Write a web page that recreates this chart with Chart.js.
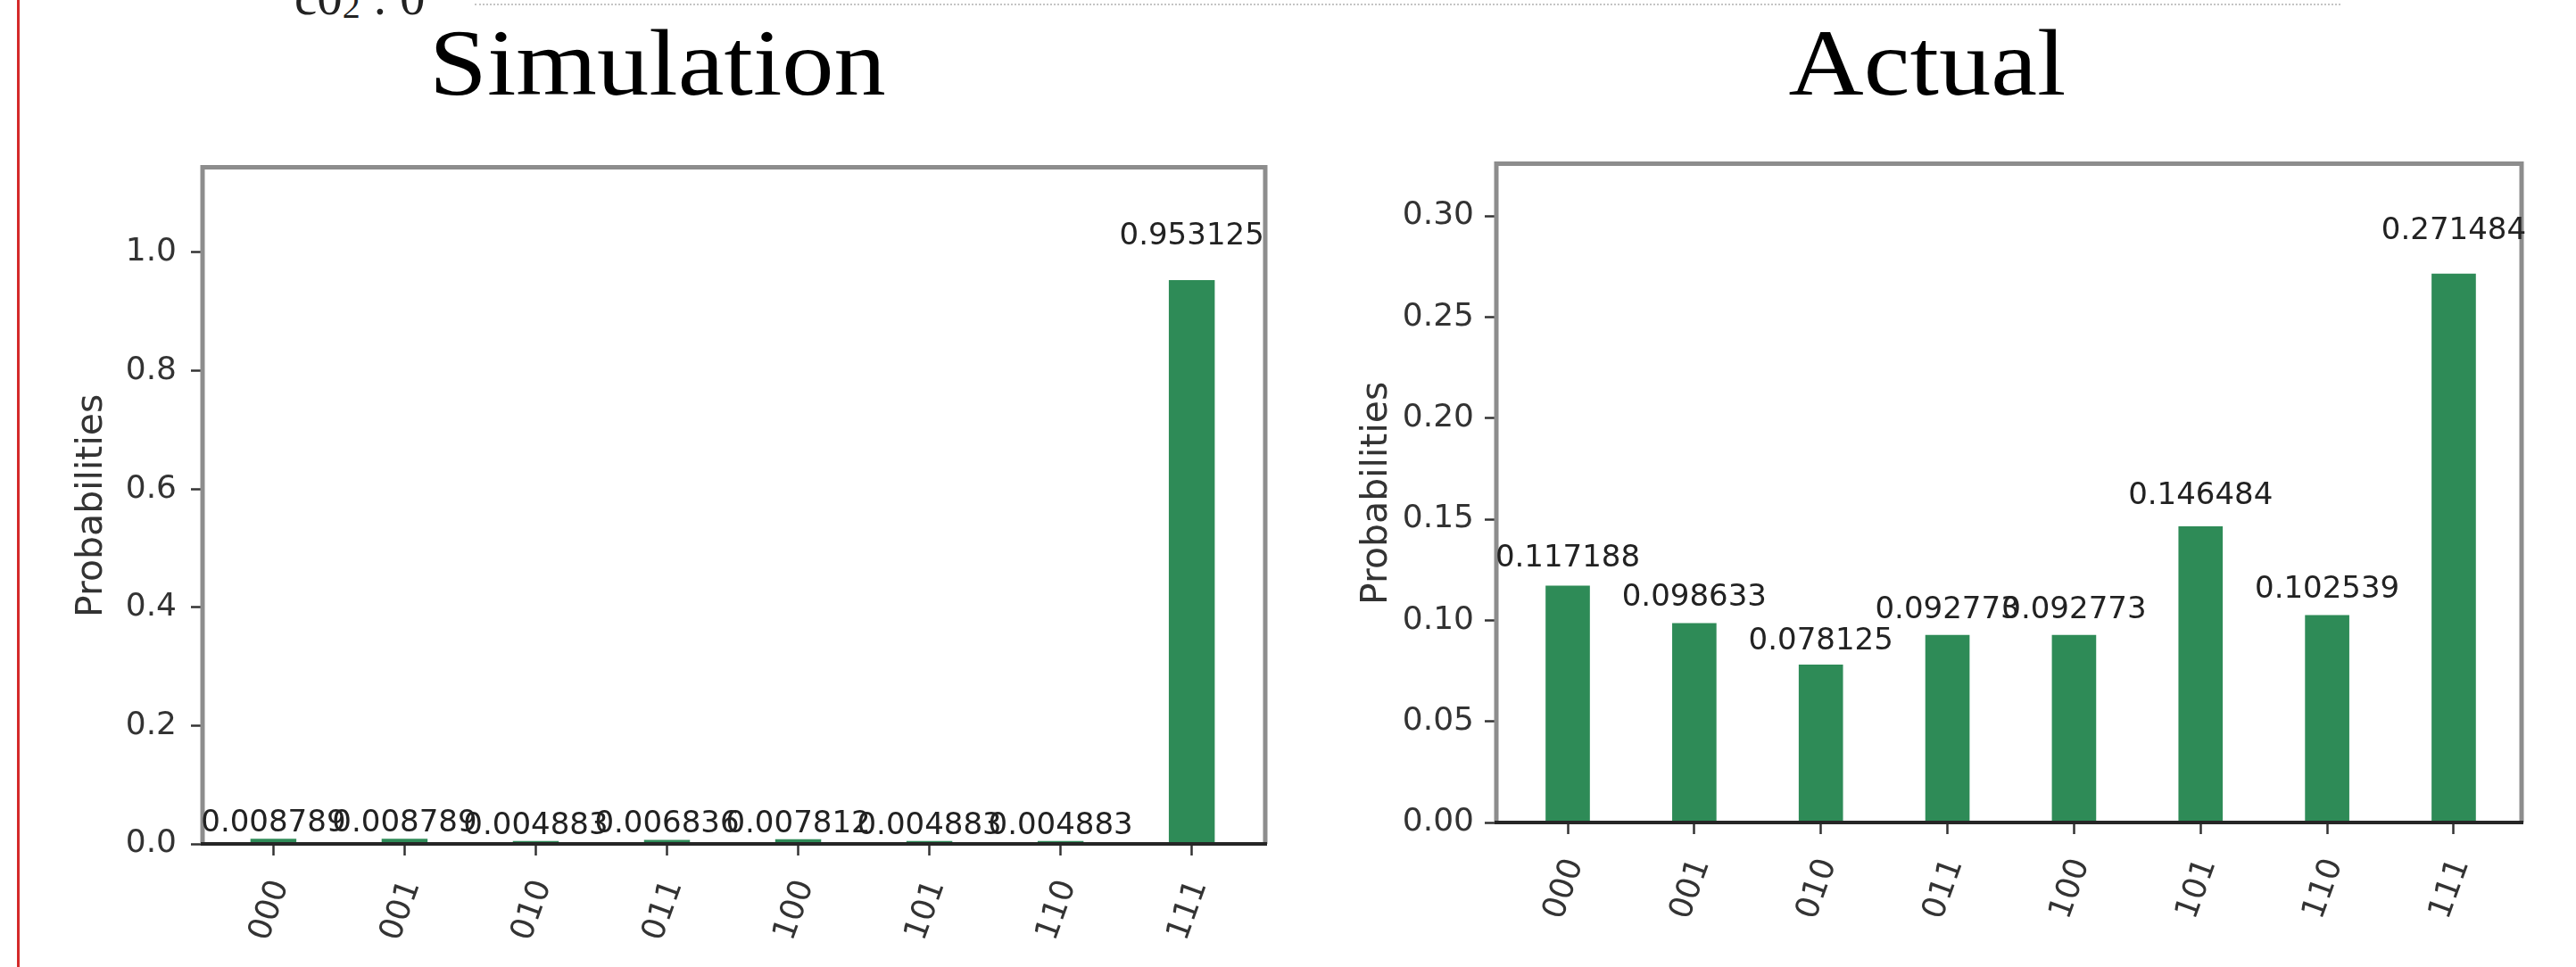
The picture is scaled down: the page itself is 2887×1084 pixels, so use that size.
<!DOCTYPE html>
<html>
<head>
<meta charset="utf-8">
<title>Simulation vs Actual</title>
<script src="https://cdn.jsdelivr.net/npm/chart.js@4.4.1/dist/chart.umd.min.js"></script>
<style>
  html, body { margin: 0; padding: 0; background: #fff; }
  body { position: relative; width: 2887px; height: 1084px; overflow: hidden; }
  .abs { position: absolute; }
  .margin-rule { left: 19px; top: 0; width: 3px; height: 1084px; background: #d42a2a; }
  .top-rule { left: 532px; top: 4px; width: 2091px; border-top: 2px dotted #c4c4c4; }
  .cut-text { left: 330px; top: -32px; font-family: "Liberation Serif", serif; font-size: 57px; line-height: 57px; color: #222; white-space: nowrap; }
  .cut-text .sub { font-size: 70%; position: relative; top: 4px; }
  .panel-title { top: 18px; font-family: "Liberation Serif", serif; font-size: 106px; line-height: 106px; color: #000; white-space: nowrap; transform: translateX(-50%) scaleX(1.1); }
  .chart-box { position: absolute; }
</style>
</head>
<body>
<div class="abs margin-rule"></div>
<div class="abs top-rule"></div>
<div class="abs cut-text">c0<span class="sub">2</span> : 0</div>
<div class="abs panel-title" id="title-sim" style="left:737px;"></div>
<div class="abs panel-title" id="title-act" style="left:2160px;"></div>
<div class="chart-box" style="left:75px; top:150px; width:1353px; height:926px;"><canvas id="sim"></canvas></div>
<div class="chart-box" style="left:1515px; top:150px; width:1323px; height:902px;"><canvas id="act"></canvas></div>
<script>
// Measured outcome probabilities for the three-qubit register.
const STATES = ['000', '001', '010', '011', '100', '101', '110', '111'];
const SIM_PROBS = [0.008789, 0.008789, 0.004883, 0.006836, 0.007812, 0.004883, 0.004883, 0.953125];
const ACT_PROBS = [0.117188, 0.098633, 0.078125, 0.092773, 0.092773, 0.146484, 0.102539, 0.271484];
const SIM_TICKS = [0, 0.2, 0.4, 0.6, 0.8, 1.0];
const ACT_TICKS = [0, 0.05, 0.10, 0.15, 0.20, 0.25, 0.30];
const PANEL_TITLES = ['Simulation', 'Actual'];
const Y_LABEL = 'Probabilities';

const BAR_COLOR = '#2e8b57';
const FONT = 'DejaVu Sans';
const TICK_SIZE = 36;
const VALUE_SIZE = 34;

document.getElementById('title-sim').textContent = PANEL_TITLES[0];
document.getElementById('title-act').textContent = PANEL_TITLES[1];

// Axes frame: grey spines on three sides, dark base line.
const frame = {
  id: 'frame',
  afterDatasetsDraw(chart) {
    const { ctx } = chart;
    const { left, right, top, bottom } = chart.chartArea;
    ctx.save();
    ctx.strokeStyle = '#8d8d8d';
    ctx.lineWidth = 5;
    ctx.beginPath();
    ctx.moveTo(left, bottom);
    ctx.lineTo(left, top);
    ctx.lineTo(right, top);
    ctx.lineTo(right, bottom);
    ctx.stroke();
    ctx.strokeStyle = '#262626';
    ctx.lineWidth = 4;
    ctx.beginPath();
    ctx.moveTo(left - 2, bottom);
    ctx.lineTo(right + 2, bottom);
    ctx.stroke();
    ctx.restore();
  }
};

// Value printed above each bar, bottom of the text at 1.05 x the bar height.
const valueLabels = {
  id: 'valueLabels',
  afterDatasetsDraw(chart) {
    const { ctx } = chart;
    const xs = chart.scales.x, ys = chart.scales.y;
    ctx.save();
    ctx.font = VALUE_SIZE + 'px "' + FONT + '"';
    ctx.fillStyle = '#222';
    ctx.textAlign = 'center';
    ctx.textBaseline = 'alphabetic';
    chart.data.datasets[0].data.forEach(pt => {
      const px = xs.getPixelForValue(pt.x);
      const py = ys.getPixelForValue(pt.y * 1.05) - 0.236 * VALUE_SIZE;
      ctx.fillText(pt.y.toFixed(6), px, py);
    });
    ctx.restore();
  }
};

function histogram(id, probs, yTicks, decimals, g) {
  const yMax = 1.2 * Math.max(...probs);
  return new Chart(document.getElementById(id), {
    type: 'bar',
    data: {
      datasets: [{
        data: probs.map((p, i) => ({ x: i, y: p })),
        backgroundColor: BAR_COLOR,
        borderWidth: 0,
        barPercentage: 0.35,
        categoryPercentage: 1
      }]
    },
    options: {
      responsive: true,
      maintainAspectRatio: false,
      animation: false,
      devicePixelRatio: 1,
      layout: { padding: { top: g.padTop, right: g.padRight, left: 0, bottom: 0 } },
      plugins: { legend: { display: false }, tooltip: { enabled: false }, title: { display: false } },
      scales: {
        x: {
          type: 'linear',
          offset: false,
          min: g.xMin,
          max: g.xMin + 8.1,
          afterBuildTicks: s => { s.ticks = STATES.map((_, i) => ({ value: i })); },
          afterFit: s => { s.height = 130; },
          grid: { display: true, offset: false, drawOnChartArea: false, drawTicks: true, tickLength: 13, tickColor: '#333', tickWidth: 2.5 },
          border: { display: false },
          ticks: {
            autoSkip: false, minRotation: 70, maxRotation: 70, padding: 22, labelOffset: 8,
            color: '#333', font: { family: FONT, size: TICK_SIZE },
            callback: v => STATES[v]
          }
        },
        y: {
          type: 'linear',
          min: 0,
          max: yMax,
          afterBuildTicks: s => { s.ticks = yTicks.map(v => ({ value: v })); },
          afterFit: s => { s.width = g.yWidth; },
          grid: { display: true, drawOnChartArea: false, drawTicks: true, tickLength: 13, tickColor: '#333', tickWidth: 2.5 },
          border: { display: false },
          ticks: {
            padding: g.yPad, color: '#333', font: { family: FONT, size: TICK_SIZE },
            callback: v => Number(v).toFixed(decimals)
          },
          title: {
            display: true, text: Y_LABEL, color: '#333',
            font: { family: FONT, size: 41 }, padding: { top: 4, bottom: 4 }
          }
        }
      }
    },
    plugins: [frame, valueLabels]
  });
}

histogram('sim', SIM_PROBS, SIM_TICKS, 1, { padTop: 24, padRight: 10, xMin: -0.54, yWidth: 152, yPad: 16 });
histogram('act', ACT_PROBS, ACT_TICKS, 2, { padTop: 28, padRight: 12, xMin: -0.564, yWidth: 162, yPad: 12 });
</script>
</body>
</html>
